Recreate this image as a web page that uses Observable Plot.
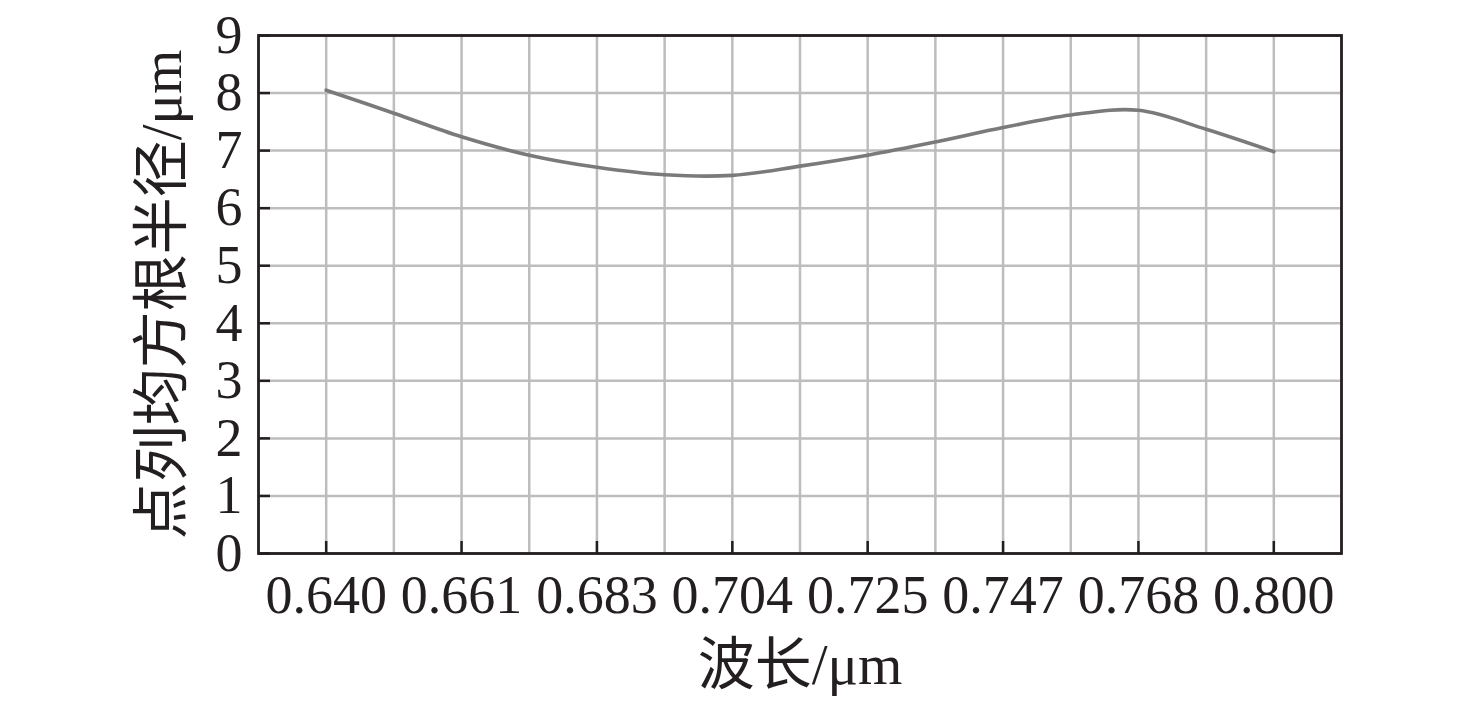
<!DOCTYPE html>
<html><head><meta charset="utf-8">
<script src="https://cdn.jsdelivr.net/npm/d3@7"></script>
<script src="https://cdn.jsdelivr.net/npm/@observablehq/plot@0.6"></script>
<style>body{margin:0;background:#fff}</style>
</head><body><div id="chart"></div>
<script>
// Category labels (wavelength, µm), shown on every other slot
const wavelengthLabels = ["0.640","0.661","0.683","0.704","0.725","0.747","0.768","0.800"];
const labelSlots = [1, 3, 5, 7, 9, 11, 13, 15];
// Data slots (half-steps between labelled wavelengths)
const pointSlots = [1, 2, 3, 4, 5, 6, 7, 8, 9, 10, 11, 12, 13, 14, 15];
// RMS spot radius (µm)
const rmsRadius = [8.05, 7.65, 7.24, 6.92, 6.71, 6.58, 6.57, 6.73, 6.92, 7.15, 7.40, 7.62, 7.70, 7.37, 6.98];
const gridSlots = [1, 2, 3, 4, 5, 6, 7, 8, 9, 10, 11, 12, 13, 14, 15];
const yTicks = [0, 1, 2, 3, 4, 5, 6, 7, 8, 9];
const xTitle = "波长/μm";
const yTitle = "点列均方根半径/μm";

const data = pointSlots.map((s, i) => ({slot: s, r: rmsRadius[i]}));
const labelOf = new Map(labelSlots.map((s, i) => [s, wavelengthLabels[i]]));

const W = 1476, H = 701;
const mt = 35, mb = 148, ml = 258, mr = 135;
const innerH = H - mt - mb, innerW = W - ml - mr;
const ink = "#231f20";
const font = "'Liberation Serif','Times New Roman','Noto Sans CJK SC',serif";

const chart = Plot.plot({
  width: W, height: H,
  marginTop: mt, marginBottom: mb, marginLeft: ml, marginRight: mr,
  style: {fontFamily: font, fontSize: "54px", color: ink, background: "#fff"},
  x: {type: "linear", domain: [0, 16]},
  y: {type: "linear", domain: [0, 9]},
  marks: [
    Plot.ruleX(gridSlots, {x: d => d, stroke: "#bdbdbd", strokeWidth: 2.5}),
    Plot.ruleY(yTicks, {y: d => d, stroke: "#bdbdbd", strokeWidth: 2.5}),
    Plot.line(data, {x: "slot", y: "r", curve: "catmull-rom", stroke: "#7a7a7a", strokeWidth: 3.6}),
    Plot.tickX(labelSlots, {x: d => d, stroke: ink, strokeWidth: 2.5, insetTop: innerH - 12}),
    Plot.tickY(yTicks, {y: d => d, stroke: ink, strokeWidth: 2.5, insetRight: innerW - 12}),
    Plot.frame({stroke: ink, strokeWidth: 2.8}),
    Plot.axisX(labelSlots, {tickSize: 0, tickPadding: 21, tickFormat: d => labelOf.get(d), label: null, fill: ink}),
    Plot.axisY(yTicks, {tickSize: 0, tickPadding: 16, tickFormat: d => String(d), label: null, fill: ink}),
    Plot.text([xTitle], {frameAnchor: "bottom", dy: 112, lineAnchor: "middle", textAnchor: "middle", text: d => d, fontSize: 57, fill: ink}),
    Plot.text([yTitle], {frameAnchor: "left", dx: -96, rotate: -90, lineAnchor: "middle", textAnchor: "middle", text: d => d, fontSize: 57, fill: ink})
  ]
});
document.getElementById("chart").appendChild(chart);
</script>
</body></html>
